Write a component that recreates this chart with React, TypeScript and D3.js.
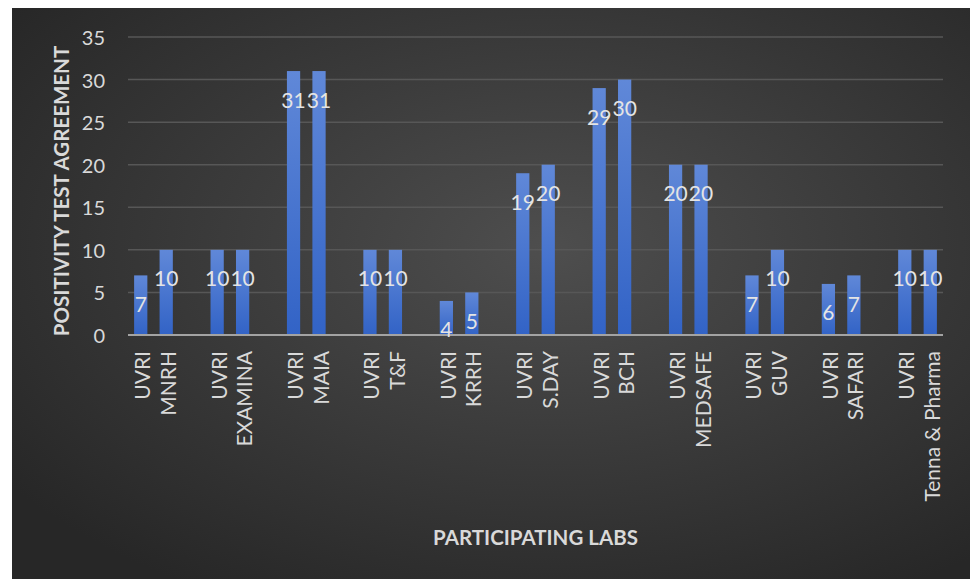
import * as d3 from "d3";
import { useEffect, useRef } from "react";

const LABS = ["MNRH", "EXAMINA", "MAIA", "T&F", "KRRH", "S.DAY", "BCH", "MEDSAFE", "GUV", "SAFARI", "Tenna & Pharma"];
const UVRI_VALUES = [7, 10, 31, 10, 4, 19, 29, 20, 7, 6, 10];
const LAB_VALUES = [10, 10, 31, 10, 5, 20, 30, 20, 10, 7, 10];
const Y_TICKS = [0, 5, 10, 15, 20, 25, 30, 35];

const W = 971;
const H = 579;
const PLOT = { left: 128, right: 943, top: 37, bottom: 335 };
const FONT = "Lato, 'Open Sans', sans-serif";
const TEXT = "#d9d9d9";

type Slot = { label: string; value: number | null };

// each lab sits next to UVRI, with an empty slot between pairs (Excel-style)
const slots: Slot[] = [];
LABS.forEach((lab, i) => {
  slots.push({ label: "UVRI", value: UVRI_VALUES[i] });
  slots.push({ label: lab, value: LAB_VALUES[i] });
  if (i < LABS.length - 1) slots.push({ label: "", value: null });
});

const App = () => {
  const svgRef = useRef<SVGSVGElement>(null);

  useEffect(() => {
    if (!svgRef.current) return;
    const svg = d3.select(svgRef.current);
    svg.selectAll("*").remove();

    const defs = svg.append("defs");
    const bg = defs
      .append("radialGradient")
      .attr("id", "bg")
      .attr("cx", "56%")
      .attr("cy", "42%")
      .attr("r", "70%");
    bg.append("stop").attr("offset", "0%").attr("stop-color", "#4e4e4e");
    bg.append("stop").attr("offset", "100%").attr("stop-color", "#272727");

    const barGrad = defs
      .append("linearGradient")
      .attr("id", "bar")
      .attr("x1", 0)
      .attr("y1", 0)
      .attr("x2", 0)
      .attr("y2", 1);
    barGrad.append("stop").attr("offset", "0%").attr("stop-color", "#6088d8");
    barGrad.append("stop").attr("offset", "100%").attr("stop-color", "#3263c6");

    svg
      .append("rect")
      .attr("x", 12)
      .attr("y", 8)
      .attr("width", W - 13)
      .attr("height", H - 8)
      .attr("fill", "url(#bg)");

    const x = d3
      .scaleBand<number>()
      .domain(d3.range(slots.length))
      .range([PLOT.left, PLOT.right])
      .paddingInner(0.48)
      .paddingOuter(0.24);

    const y = d3.scaleLinear().domain([0, 35]).range([PLOT.bottom, PLOT.top]);

    // gridlines
    svg
      .append("g")
      .selectAll("line")
      .data(Y_TICKS.filter((t) => t > 0))
      .join("line")
      .attr("x1", PLOT.left)
      .attr("x2", PLOT.right)
      .attr("y1", (d) => y(d))
      .attr("y2", (d) => y(d))
      .attr("stroke", "#575757")
      .attr("stroke-width", 1.5);

    // y tick labels
    svg
      .append("g")
      .selectAll("text")
      .data(Y_TICKS)
      .join("text")
      .attr("x", 105)
      .attr("y", (d) => y(d))
      .attr("text-anchor", "end")
      .attr("dominant-baseline", "central")
      .attr("font-family", FONT)
      .attr("font-size", 20)
      .attr("fill", TEXT)
      .text((d) => d);

    const bars = slots
      .map((s, i) => ({ ...s, i }))
      .filter((s) => s.value !== null) as (Slot & { i: number; value: number })[];

    svg
      .append("g")
      .selectAll("rect")
      .data(bars)
      .join("rect")
      .attr("x", (d) => x(d.i)!)
      .attr("width", x.bandwidth())
      .attr("y", (d) => y(d.value))
      .attr("height", (d) => y(0) - y(d.value))
      .attr("fill", "url(#bar)");

    // axis line
    svg
      .append("line")
      .attr("x1", PLOT.left)
      .attr("x2", PLOT.right)
      .attr("y1", y(0))
      .attr("y2", y(0))
      .attr("stroke", "#a3a3a3")
      .attr("stroke-width", 2);

    // data labels
    svg
      .append("g")
      .selectAll("text")
      .data(bars)
      .join("text")
      .attr("x", (d) => x(d.i)! + x.bandwidth() / 2)
      .attr("y", (d) => y(d.value) + 28)
      .attr("text-anchor", "middle")
      .attr("dominant-baseline", "central")
      .attr("font-family", FONT)
      .attr("font-size", 21)
      .attr("fill", "#e4e4e4")
      .text((d) => d.value);

    // category labels
    svg
      .append("g")
      .selectAll("text")
      .data(bars)
      .join("text")
      .attr("transform", (d) => `translate(${x(d.i)! + x.bandwidth() / 2 + 1},${PLOT.bottom + 16}) rotate(-90)`)
      .attr("text-anchor", "end")
      .attr("dominant-baseline", "central")
      .attr("font-family", FONT)
      .attr("font-size", 21)
      .attr("fill", TEXT)
      .text((d) => d.label);

    // axis titles
    svg
      .append("text")
      .attr("transform", `translate(61,191) rotate(-90)`)
      .attr("text-anchor", "middle")
      .attr("dominant-baseline", "central")
      .attr("font-family", FONT)
      .attr("font-weight", "bold")
      .attr("font-size", 20.5)
      .attr("fill", TEXT)
      .text("POSITIVITY TEST AGREEMENT");

    svg
      .append("text")
      .attr("x", (PLOT.left + PLOT.right) / 2)
      .attr("y", 537)
      .attr("text-anchor", "middle")
      .attr("dominant-baseline", "central")
      .attr("font-family", FONT)
      .attr("font-weight", "bold")
      .attr("font-size", 20.5)
      .attr("fill", TEXT)
      .text("PARTICIPATING LABS");
  }, []);

  return (
    <svg
      ref={svgRef}
      width={W}
      height={H}
      style={{ position: "absolute", left: 0, top: 0, background: "#fff" }}
    />
  );
};

export default App;
